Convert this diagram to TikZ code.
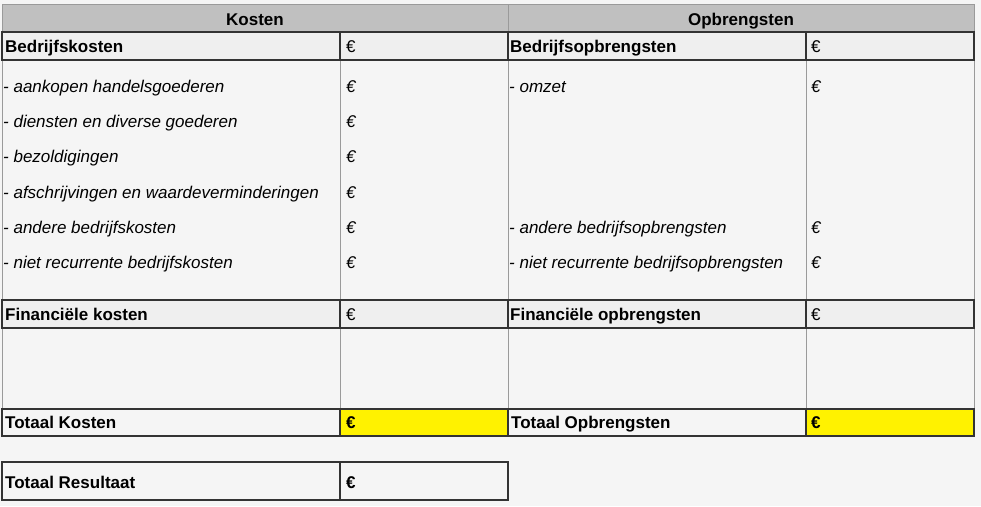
\documentclass[tikz,border=0pt]{standalone}
\usepackage{fontspec}
\setmainfont{Liberation Sans}
\definecolor{bgc}{HTML}{F5F5F5}
\definecolor{hdr}{HTML}{C0C0C0}
\definecolor{rowc}{HTML}{EFEFEF}
\definecolor{dark}{HTML}{333333}
\definecolor{grid}{HTML}{9A9A9A}
\definecolor{eurc}{HTML}{000000}
\begin{document}
\begin{tikzpicture}[x=1pt,y=-1pt,
  txt/.style={anchor=base west,inner sep=0pt,font=\fontsize{17}{20}\selectfont},
  boldtxt/.style={txt,font=\fontsize{17}{20}\selectfont\bfseries},
  itemtxt/.style={txt,font=\fontsize{17}{20}\selectfont\itshape},
  eurtxt/.style={txt,text=eurc},
  headtxt/.style={anchor=base,inner sep=0pt,font=\fontsize{17}{20}\selectfont\bfseries},
  hdrcell/.style={fill=hdr,draw=grid,line width=1pt},
  bodycell/.style={fill=bgc,draw=grid,line width=1pt},
  boldcell/.style={fill=rowc,draw=dark,line width=1.3pt},
  totcell/.style={fill=bgc,draw=dark,line width=1.3pt},
  yelcell/.style={fill=yellow,draw=dark,line width=1.3pt}]
\useasboundingbox[fill=bgc] (0,0) rectangle (981,506);
% header
\path[hdrcell] (2,4) rectangle (508,32);
\path[hdrcell] (508,4) rectangle (974,32);
% bodies
\path[bodycell] (2,60) rectangle (340,300);
\path[bodycell] (340,60) rectangle (508,300);
\path[bodycell] (508,60) rectangle (806,300);
\path[bodycell] (806,60) rectangle (974,300);
\path[bodycell] (2,328) rectangle (340,409);
\path[bodycell] (340,328) rectangle (508,409);
\path[bodycell] (508,328) rectangle (806,409);
\path[bodycell] (806,328) rectangle (974,409);
% bold rows
\path[boldcell] (2,32) rectangle (340,60);
\path[boldcell] (340,32) rectangle (508,60);
\path[boldcell] (508,32) rectangle (806,60);
\path[boldcell] (806,32) rectangle (974,60);
\path[boldcell] (2,300) rectangle (340,328);
\path[boldcell] (340,300) rectangle (508,328);
\path[boldcell] (508,300) rectangle (806,328);
\path[boldcell] (806,300) rectangle (974,328);
% totals
\path[totcell] (2,409) rectangle (340,436);
\path[yelcell] (340,409) rectangle (508,436);
\path[totcell] (508,409) rectangle (806,436);
\path[yelcell] (806,409) rectangle (974,436);
\path[totcell] (2,462) rectangle (340,500);
\path[totcell] (340,462) rectangle (508,500);
% texts
\node[headtxt] (hk) at (255,25) {Kosten};
\node[headtxt] (ho) at (741,25) {Opbrengsten};
\node[boldtxt] (bk) at (5,52) {Bedrijfskosten};
\node[eurtxt] (bke) at (346,52) {€};
\node[boldtxt] (bo) at (510,52) {Bedrijfsopbrengsten};
\node[eurtxt] (boe) at (811,52) {€};
\node[itemtxt] (k1) at (3,92) {- aankopen handelsgoederen};
\node[itemtxt] (k1e) at (346,92) {€};
\node[itemtxt] (k2) at (3,127.3) {- diensten en diverse goederen};
\node[itemtxt] (k2e) at (346,127.3) {€};
\node[itemtxt] (k3) at (3,162.6) {- bezoldigingen};
\node[itemtxt] (k3e) at (346,162.6) {€};
\node[itemtxt] (k4) at (3,198) {- afschrijvingen en waardeverminderingen};
\node[itemtxt] (k4e) at (346,198) {€};
\node[itemtxt] (k5) at (3,233.3) {- andere bedrijfskosten};
\node[itemtxt] (k5e) at (346,233.3) {€};
\node[itemtxt] (k6) at (3,268.6) {- niet recurrente bedrijfskosten};
\node[itemtxt] (k6e) at (346,268.6) {€};
\node[itemtxt] (o1) at (509,92) {- omzet};
\node[itemtxt] (o1e) at (811,92) {€};
\node[itemtxt] (o5) at (509,233.3) {- andere bedrijfsopbrengsten};
\node[itemtxt] (o5e) at (811,233.3) {€};
\node[itemtxt] (o6) at (509,268.6) {- niet recurrente bedrijfsopbrengsten};
\node[itemtxt] (o6e) at (811,268.6) {€};
\node[boldtxt] (fk) at (5,320) {Financiële kosten};
\node[eurtxt] (fke) at (346,320) {€};
\node[boldtxt] (fo) at (510,320) {Financiële opbrengsten};
\node[eurtxt] (foe) at (811,320) {€};
\node[boldtxt] (tk) at (5,428) {Totaal Kosten};
\node[boldtxt] (tke) at (346,428) {€};
\node[boldtxt] (to) at (511,428) {Totaal Opbrengsten};
\node[boldtxt] (toe) at (811,428) {€};
\node[boldtxt] (tr) at (5,488) {Totaal Resultaat};
\node[boldtxt] (tre) at (346,488) {€};
\end{tikzpicture}
\end{document}
